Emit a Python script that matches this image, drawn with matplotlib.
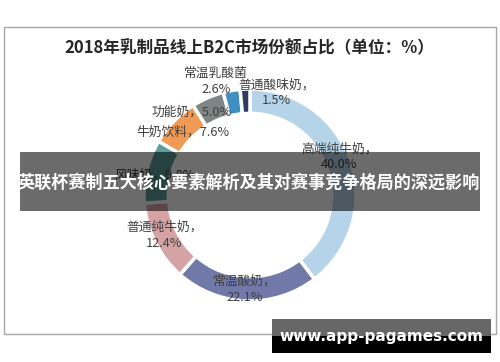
import matplotlib
matplotlib.use("Agg")
import matplotlib.pyplot as plt
from matplotlib.patches import Rectangle

plt.rcParams['font.family'] = ['Noto Sans CJK SC', 'DejaVu Sans']

title = "2018年乳制品线上B2C市场份额占比（单位：%）"
categories = ["高端纯牛奶", "常温酸奶", "普通纯牛奶", "风味奶",
              "牛奶饮料", "功能奶", "常温乳酸菌", "普通酸味奶"]
shares = [40.0, 22.1, 12.4, 9.8, 7.6, 5.0, 2.6, 1.5]
banner = "英联杯赛制五大核心要素解析及其对赛事竞争格局的深远影响"
watermark = "www.app-pagames.com"

colors = ["#b5d4e9", "#7079a8", "#d6a3a5", "#5c9e9a",
          "#f09a55", "#7f8584", "#3f8fc2", "#2f3c5f"]
# separator between name and value, and where each label sits (pie data coords)
seps = ["，\n", "，\n", "，\n", "，", "，", "，", "\n", "，\n"]
label_pos = [(0.84, 0.36), (-0.05, -0.89), (-0.81, -0.38), (-0.90, 0.19),
             (-0.63, 0.59), (-0.55, 0.78), (-0.32, 1.07), (0.25, 0.96)]

W, H = 500, 362
fig = plt.figure(figsize=(W / 100, H / 100), dpi=100)
fig.patch.set_facecolor("white")

# donut
cx, cy, r = 250, 195, 106
ax = fig.add_axes([(cx - r) / W, (H - cy - r) / H, 2 * r / W, 2 * r / H])
ax.pie(shares, colors=colors, startangle=90, counterclock=False, radius=1,
       wedgeprops=dict(width=0.23, edgecolor="white", linewidth=2.5))
ax.set_xlim(-1, 1)
ax.set_ylim(-1, 1)
ax.set_aspect("equal")
ax.axis("off")

for name, val, sep, (lx, ly) in zip(categories, shares, seps, label_pos):
    ax.text(lx, ly, f"{name}{sep}{val:.1f}%", ha="center", va="center",
            fontsize=9.2, color="#404040", linespacing=1.25)

fig.text(249 / W, 1 - 48 / H, title, ha="center", va="center",
         fontsize=12, fontweight="bold", color="#262626")

# overlay layer in pixel coordinates
ov = fig.add_axes([0, 0, 1, 1])
ov.set_xlim(0, W)
ov.set_ylim(H, 0)
ov.axis("off")
ov.patch.set_alpha(0)

ov.add_patch(Rectangle((4, 27), 492, 307, fill=False, edgecolor="#a6a6a6", linewidth=1))
ov.add_patch(Rectangle((20, 152), 460, 59, facecolor="black", alpha=0.58, edgecolor="none"))
ov.text(249, 183, banner, ha="center", va="center", fontsize=12.3,
        fontweight="bold", color="white")

ov.add_patch(Rectangle((272, 319), 219, 17, facecolor="#676767", edgecolor="none"))
ov.add_patch(Rectangle((272, 336), 219, 17, facecolor="black", edgecolor="none"))
ov.text(381, 337, watermark, ha="center", va="center", fontsize=11,
        fontweight="bold", color="white", family="DejaVu Sans")

fig.savefig("out.png", dpi=100)
